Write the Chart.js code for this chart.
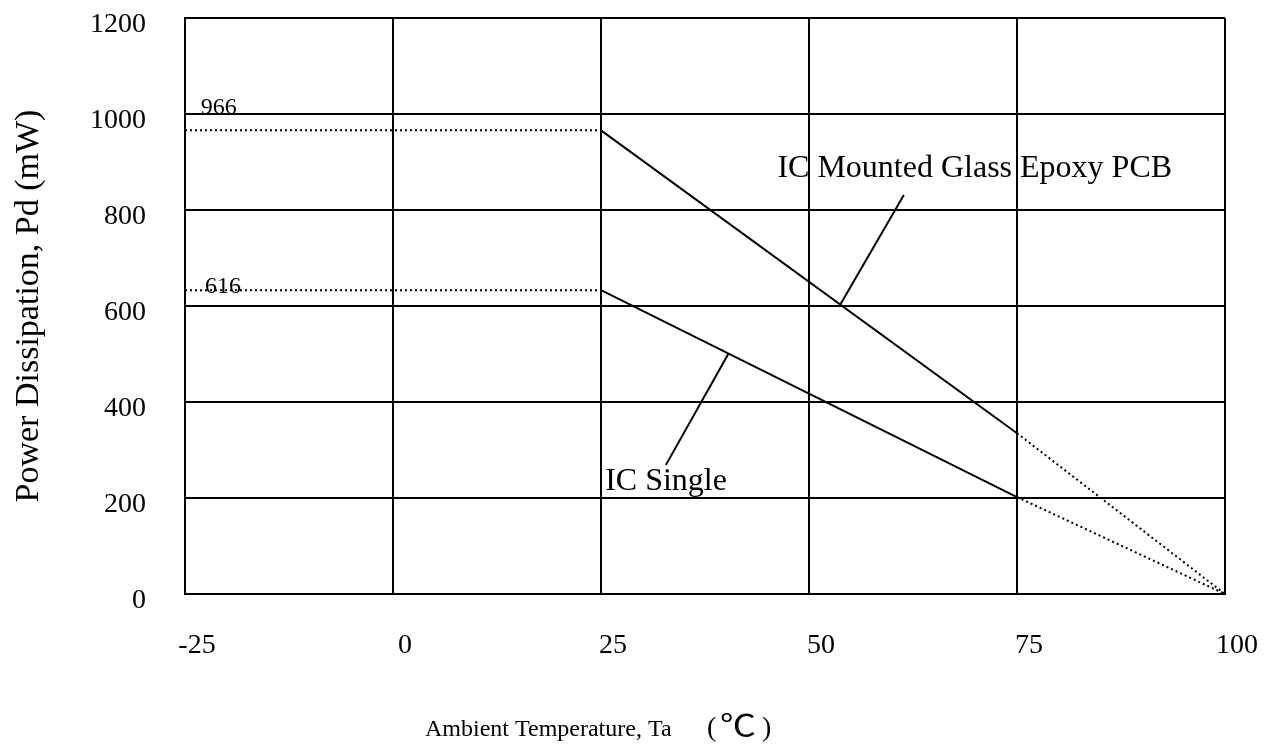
<!DOCTYPE html>
<html>
<head>
<meta charset="utf-8">
<script src="https://cdn.jsdelivr.net/npm/chart.js@4.4.0/dist/chart.umd.min.js"></script>
<style>
  html, body { margin: 0; padding: 0; background: #fff; }
  #wrap { width: 1273px; height: 744px; }
</style>
</head>
<body>
<div id="wrap"><canvas id="myChart"></canvas></div>
<script>
var xTicks = [-25, 0, 25, 50, 75, 100]
var yTicks = [0, 200, 400, 600, 800, 1000, 1200]

// IC mounted on glass epoxy PCB
var pcb_temp = [25, 75]
var pcb_pd = [966, 335]
var pcb_ext_temp = [75, 100]
var pcb_ext_pd = [335, 0]

// IC single
var single_temp = [25, 75]
var single_pd = [633, 202]
var single_ext_temp = [75, 100]
var single_ext_pd = [202, 0]

// dotted guides back to the y axis
var guide_temp = [-25, 25]
var guide_pcb = [966, 966]
var guide_single = [633, 633]

// leader lines from the captions to the curves
var lead_pcb_temp = [53.8, 61.4]
var lead_pcb_pd = [604, 831]
var lead_single_temp = [32.8, 40.3]
var lead_single_pd = [269, 500]

var captions = ['966', '616', 'IC Mounted Glass Epoxy PCB', 'IC Single']
var xTitle = 'Ambient Temperature, Ta'
var xUnit = ['(', '\u2103', ')']
var yTitle = 'Power Dissipation, Pd (mW)'

function pts(xs, ys) {
  return xs.map(function (x, i) { return { x: x, y: ys[i] } })
}

function solid(xs, ys) {
  return { data: pts(xs, ys), borderColor: '#000', borderWidth: 2, pointRadius: 0, fill: false, tension: 0 }
}
function dotted(xs, ys) {
  var d = solid(xs, ys)
  d.borderDash = [2, 3]
  return d
}

// where each caption sits (left end of the baseline, in axis units)
var captionPos = [
  { t: -23.1, pd: 1000, size: 24 },
  { t: -22.6, pd: 627, size: 24 },
  { t: 46.2, pd: 869, size: 32 },
  { t: 25.5, pd: 217, size: 32 }
]

var serif = 'Liberation Serif'

var captionPlugin = {
  id: 'captions',
  afterDatasetsDraw: function (chart) {
    var ctx = chart.ctx, x = chart.scales.x, y = chart.scales.y
    ctx.save()
    ctx.fillStyle = '#000'
    ctx.textAlign = 'left'
    ctx.textBaseline = 'alphabetic'
    captions.forEach(function (text, i) {
      var p = captionPos[i]
      ctx.font = p.size + 'px "' + serif + '"'
      ctx.fillText(text, x.getPixelForValue(p.t), y.getPixelForValue(p.pd))
    })

    // x axis title sits left of centre in the original
    var base = 736
    ctx.font = '24px "' + serif + '"'
    ctx.fillText(xTitle, 425, base)
    ctx.font = '28px "' + serif + '"'
    ctx.fillText(xUnit[0], 707, base)
    ctx.save()
    ctx.translate(720, base)
    ctx.scale(1.2, 1)
    ctx.font = '30px "Noto Sans CJK JP"'
    ctx.fillText(xUnit[1], 0, 0)
    ctx.restore()
    ctx.font = '28px "' + serif + '"'
    ctx.fillText(xUnit[2], 762, base)
    ctx.restore()
  }
}

ctx = document.getElementById('myChart');

chart = new Chart(ctx, {
  type: 'line',
  data: {
    datasets: [
      solid(pcb_temp, pcb_pd),
      dotted(pcb_ext_temp, pcb_ext_pd),
      solid(single_temp, single_pd),
      dotted(single_ext_temp, single_ext_pd),
      dotted(guide_temp, guide_pcb),
      dotted(guide_temp, guide_single),
      solid(lead_pcb_temp, lead_pcb_pd),
      solid(lead_single_temp, lead_single_pd)
    ]
  },
  options: {
    responsive: true,
    maintainAspectRatio: false,
    animation: false,
    layout: { padding: { top: 18, right: 48, left: 0, bottom: 0 } },
    plugins: { legend: { display: false }, tooltip: { enabled: false } },
    scales: {
      x: {
        type: 'linear',
        min: -25,
        max: 100,
        afterBuildTicks: function (s) { s.ticks = xTicks.map(function (v) { return { value: v } }) },
        afterFit: function (s) { s.height = 150 },
        grid: { color: '#000', lineWidth: 2, drawTicks: true, tickLength: 35, tickColor: 'rgba(0,0,0,0)' },
        border: { color: '#000', width: 2 },
        ticks: { color: '#000', font: { family: serif, size: 28 }, padding: 0, labelOffset: 12, maxRotation: 0, autoSkip: false, callback: function (v) { return String(v) } }
      },
      y: {
        min: 0,
        max: 1200,
        afterBuildTicks: function (s) { s.ticks = yTicks.map(function (v) { return { value: v } }) },
        afterFit: function (s) { s.width = 185 },
        grid: { color: '#000', lineWidth: 2, drawTicks: true, tickLength: 39, tickColor: 'rgba(0,0,0,0)' },
        border: { color: '#000', width: 2 },
        ticks: { color: '#000', font: { family: serif, size: 28 }, padding: 0, labelOffset: 7, autoSkip: false, callback: function (v) { return String(v) } },
        title: { display: true, text: yTitle, color: '#000', font: { family: serif, size: 34 }, padding: { top: 9, bottom: 0 } }
      }
    }
  },
  plugins: [captionPlugin]
});
</script>
</body>
</html>
